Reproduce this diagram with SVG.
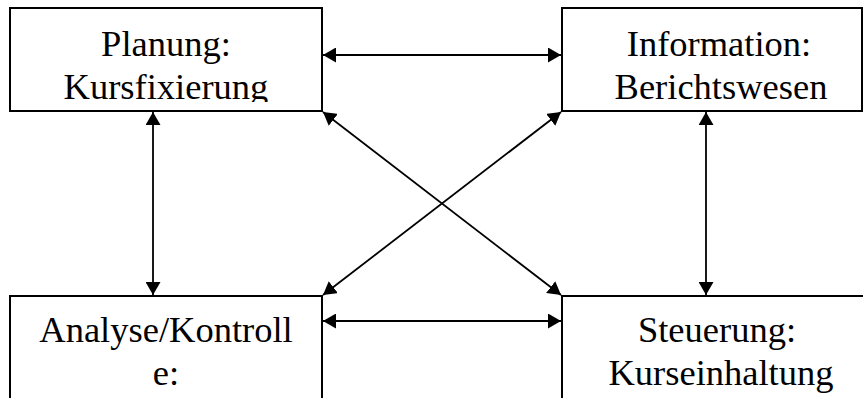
<svg xmlns="http://www.w3.org/2000/svg" width="863" height="398" viewBox="0 0 863 398">
  <style>
    .box { fill: #ffffff; stroke: #000000; stroke-width: 2; }
    .label { font-family: "Liberation Serif", "Times New Roman", serif; font-size: 36.5px; fill: #000000; text-anchor: middle; }
    .link { fill: none; stroke: #000000; stroke-width: 1.8; marker-start: url(#head); marker-end: url(#head); }
  </style>
  <defs>
    <marker id="head" markerUnits="userSpaceOnUse" markerWidth="14" markerHeight="15" refX="13" refY="7.5" orient="auto-start-reverse">
      <path d="M0,0 L13,7.5 L0,15 z" fill="#000000"/>
    </marker>
    <clipPath id="clipPlan"><rect x="10" y="8" width="312" height="94"/></clipPath>
    <clipPath id="clipInfo"><rect x="562" y="8" width="300" height="94"/></clipPath>
  </defs>

  <rect x="0" y="0" width="863" height="398" fill="#ffffff"/>

  <g id="node-planung">
    <rect class="box" x="10" y="8" width="312" height="103"/>
    <text class="label" clip-path="url(#clipPlan)"><tspan x="166" y="56">Planung:</tspan><tspan x="166" y="99">Kursfixierung</tspan></text>
  </g>

  <g id="node-information">
    <rect class="box" x="562" y="8" width="300" height="103"/>
    <text class="label" clip-path="url(#clipInfo)"><tspan x="719" y="56">Information:</tspan><tspan x="721" y="99">Berichtswesen</tspan></text>
  </g>

  <g id="node-analyse">
    <rect class="box" x="10" y="296" width="312" height="120"/>
    <text class="label"><tspan x="166" y="342">Analyse/Kontroll</tspan><tspan x="166" y="385">e:</tspan></text>
  </g>

  <g id="node-steuerung">
    <rect class="box" x="562" y="296" width="320" height="120"/>
    <text class="label"><tspan x="717" y="342">Steuerung:</tspan><tspan x="721" y="385">Kurseinhaltung</tspan></text>
  </g>

  <g id="connectors">
    <line class="link" x1="323" y1="55" x2="561" y2="55"/>
    <line class="link" x1="323" y1="321" x2="561" y2="321"/>
    <line class="link" x1="153" y1="112" x2="153" y2="295"/>
    <line class="link" x1="706" y1="112" x2="706" y2="295"/>
    <line class="link" x1="323" y1="112" x2="561" y2="295"/>
    <line class="link" x1="561" y1="112" x2="323" y2="295"/>
  </g>
</svg>
